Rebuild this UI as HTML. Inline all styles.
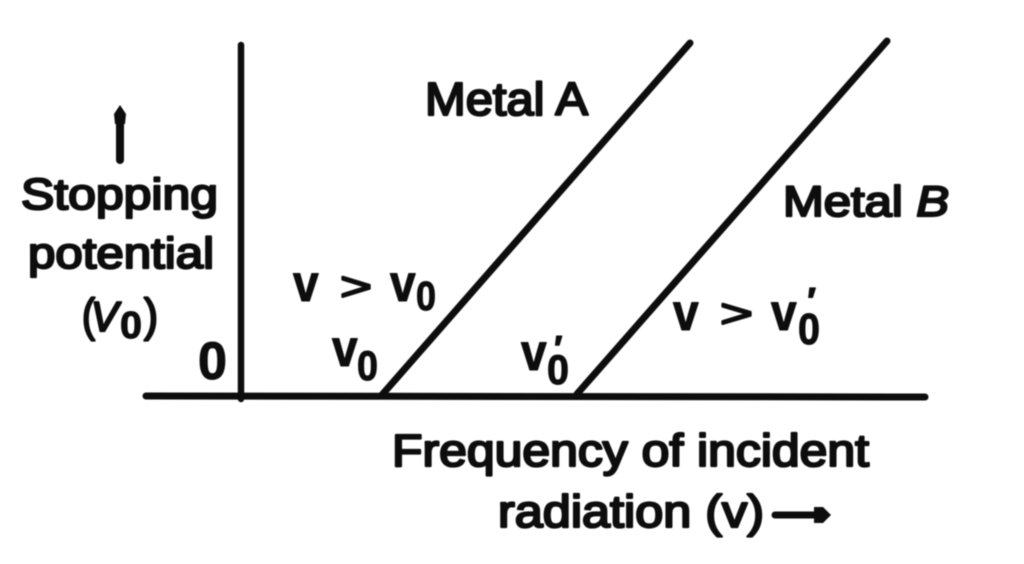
<!DOCTYPE html>
<html>
<head>
<meta charset="utf-8">
<style>
html,body{margin:0;padding:0;background:#fff;width:1024px;height:564px;overflow:hidden}
svg{display:block}
text{font-family:"Liberation Sans",sans-serif;fill:#101010;stroke:#101010;stroke-width:2.3px;stroke-linejoin:round}
text.b{font-weight:bold;stroke-width:1px}
text.g{font-weight:normal;stroke-width:2px}
</style>
</head>
<body>
<svg width="1024" height="564" viewBox="0 0 1024 564" xmlns="http://www.w3.org/2000/svg">
<defs><filter id="s" x="-5%" y="-5%" width="110%" height="110%"><feGaussianBlur stdDeviation="0.6"/></filter></defs>
<rect width="1024" height="564" fill="#fff"/>
<g filter="url(#s)">
<g stroke="#0e0e0e" stroke-linecap="round" fill="none">
<line x1="241" y1="45" x2="241" y2="399" stroke-width="6.5"/>
<line x1="146" y1="396" x2="925" y2="397" stroke-width="7"/>
<line x1="381" y1="396" x2="690" y2="43" stroke-width="7"/>
<line x1="577" y1="394" x2="887" y2="41" stroke-width="7"/>
<line x1="120" y1="118" x2="120" y2="160" stroke-width="8"/>
<line x1="775" y1="515" x2="820" y2="515" stroke-width="7"/>
</g>
<polygon points="814,507 823,507 831,515 823,523 814,523" fill="#0e0e0e"/>
<polygon points="115,124 114,114 120,105 126,114 125,124" fill="#0e0e0e"/>

<text x="425" y="115" font-size="46" textLength="163" lengthAdjust="spacingAndGlyphs">Metal A</text>
<text x="783" y="216" font-size="43" textLength="166" lengthAdjust="spacingAndGlyphs">Metal <tspan font-style="italic">B</tspan></text>
<text x="21" y="209" font-size="44" textLength="197" lengthAdjust="spacingAndGlyphs">Stopping</text>
<text x="28" y="268" font-size="44" textLength="186" lengthAdjust="spacingAndGlyphs">potential</text>

<text x="82" y="331" font-size="46" textLength="13" lengthAdjust="spacingAndGlyphs">(</text>
<text x="91" y="331" font-size="42" font-style="italic" textLength="27" lengthAdjust="spacingAndGlyphs">V</text>
<text class="b" x="120" y="338" font-size="38" textLength="22" lengthAdjust="spacingAndGlyphs">0</text>
<text x="144" y="331" font-size="46" textLength="14" lengthAdjust="spacingAndGlyphs">)</text>
<text class="b" x="198" y="379" font-size="53" textLength="29" lengthAdjust="spacingAndGlyphs">0</text>

<text class="b" transform="translate(293 301) scale(1 1.12)" font-size="46">v</text>
<text class="g" x="340" y="300" font-size="40" textLength="32" lengthAdjust="spacingAndGlyphs">&gt;</text>
<text class="b" transform="translate(390 301) scale(1 1.12)" font-size="46">v</text>
<text class="b" x="416" y="310" font-size="41" textLength="20" lengthAdjust="spacingAndGlyphs">0</text>

<text class="b" transform="translate(332 366) scale(1 1.12)" font-size="46">v</text>
<text class="b" x="357" y="380" font-size="42" textLength="21" lengthAdjust="spacingAndGlyphs">0</text>

<text class="b" transform="translate(521 370) scale(1 1.12)" font-size="46">v</text>
<text class="b" x="547" y="384" font-size="42" textLength="22" lengthAdjust="spacingAndGlyphs">0</text>
<text class="b" x="552" y="361" font-size="36" font-style="italic">′</text>

<text class="b" transform="translate(673 330) scale(1 1.12)" font-size="46">v</text>
<text class="g" x="720" y="327" font-size="40" textLength="33" lengthAdjust="spacingAndGlyphs">&gt;</text>
<text class="b" transform="translate(771 330) scale(1 1.12)" font-size="46">v</text>
<text class="b" x="798" y="344" font-size="44" textLength="22" lengthAdjust="spacingAndGlyphs">0</text>
<text class="b" x="805" y="314" font-size="38" font-style="italic">′</text>

<text x="392" y="466" font-size="45" textLength="477" lengthAdjust="spacingAndGlyphs">Frequency of incident</text>
<text x="498" y="527" font-size="45" textLength="266" lengthAdjust="spacingAndGlyphs">radiation (v)</text>
</g>
</svg>
</body>
</html>
